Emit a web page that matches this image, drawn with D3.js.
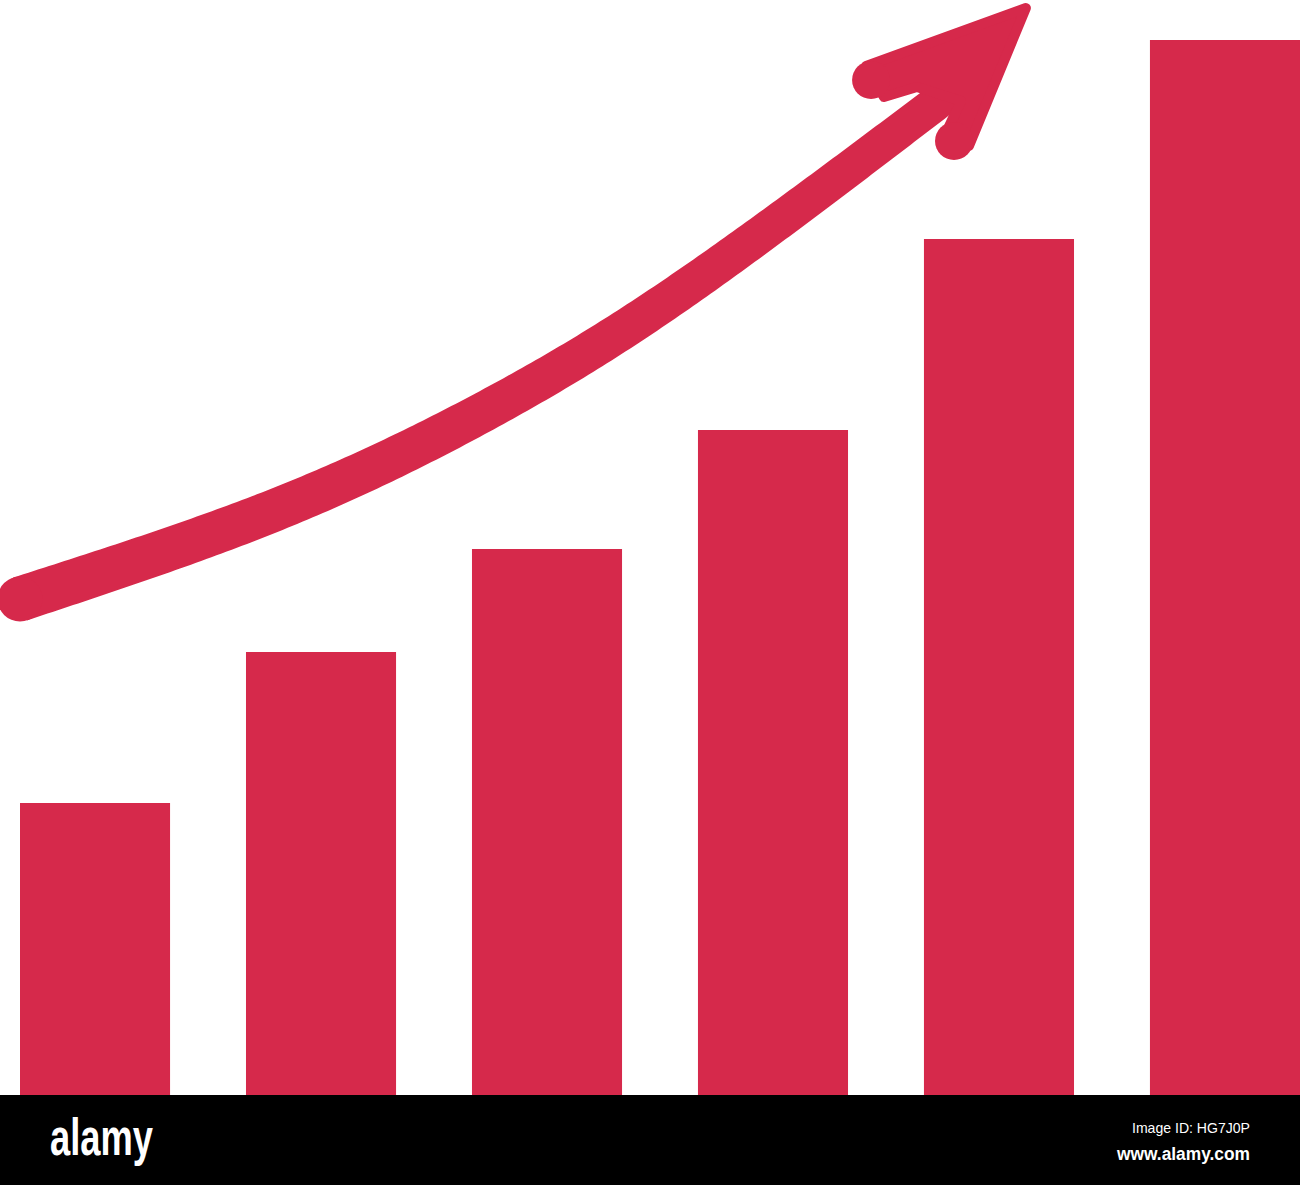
<!DOCTYPE html>
<html><head><meta charset="utf-8">
<script src="https://cdn.jsdelivr.net/npm/d3@7"></script>
<style>html,body{margin:0;padding:0;background:#fff;}svg{display:block;}</style>
</head><body>
<svg id="c" width="1300" height="1185"></svg>
<script>
// ---- data ----
const categories = ["1", "2", "3", "4", "5", "6"];
const values = [2.92, 4.43, 5.46, 6.65, 8.56, 10.55];
// trend arrow shaft (x in bar-index units, y in value units)
const shaftX = [-0.332, 0.819, 1.792, 2.677, 3.827];
const shaftY = [4.96, 5.87, 6.92, 8.17, 10.10];
// arrow head outline
const headX = [4.119, 3.412, 3.491, 3.637, 3.832, 3.757, 3.867];
const headY = [10.87, 10.29, 9.98, 10.08, 9.94, 9.58, 9.49];
const barbX = [3.434, 3.801];
const barbY = [10.15, 9.54];
const footerLogo = "alamy";
const footerId = "Image ID: HG7J0P";
const footerUrl = "www.alamy.com";

const W = 1300, H = 1185, base = 1095, red = "#d6294b";
const svg = d3.select("#c");

const x = d3.scaleBand().domain(categories).range([20, 1300]).paddingInner(0.336).paddingOuter(0);
const y = d3.scaleLinear().domain([0, 10.55]).range([base, 40]);
const xi = d3.scaleLinear().domain([0, categories.length - 1])
  .range([x(categories[0]) + x.bandwidth() / 2, x(categories[categories.length - 1]) + x.bandwidth() / 2]);

svg.append("g").selectAll("rect").data(values).join("rect")
  .attr("x", (d, i) => x(categories[i]))
  .attr("y", d => y(d))
  .attr("width", x.bandwidth())
  .attr("height", d => base - y(d))
  .attr("fill", red);

// shaft: sample a smooth curve then build a tapered ribbon
const pts = shaftX.map((v, i) => [xi(v), y(shaftY[i])]);
const tmp = svg.append("path").attr("d", d3.line().curve(d3.curveNatural)(pts)).attr("fill", "none");
const node = tmp.node(), L = node.getTotalLength();
const N = 200, left = [], right = [];
const w0 = 45, w1 = 35;
for (let k = 0; k <= N; k++) {
  const s = L * k / N;
  const p = node.getPointAtLength(s);
  const q = node.getPointAtLength(Math.min(L, s + 1)), r = node.getPointAtLength(Math.max(0, s - 1));
  let dx = q.x - r.x, dy = q.y - r.y; const m = Math.hypot(dx, dy) || 1; dx /= m; dy /= m;
  const hw = (w0 + (w1 - w0) * k / N) / 2;
  left.push([p.x - dy * hw, p.y + dx * hw]);
  right.push([p.x + dy * hw, p.y - dx * hw]);
}
tmp.remove();
svg.append("path").attr("d", d3.line()(left.concat(right.reverse())) + "Z").attr("fill", red);
const p0 = pts[0];
svg.append("circle").attr("cx", p0[0]).attr("cy", p0[1]).attr("r", w0 / 2).attr("fill", red);

// head
const hp = headX.map((v, i) => [xi(v), y(headY[i])]);
svg.append("path").attr("d", d3.line()(hp) + "Z").attr("fill", red)
  .attr("stroke", red).attr("stroke-width", 10).attr("stroke-linejoin", "round");
svg.append("g").selectAll("circle").data(barbX).join("circle")
  .attr("cx", d => xi(d)).attr("cy", (d, i) => y(barbY[i])).attr("r", 19).attr("fill", red);

// footer
svg.append("rect").attr("x", 0).attr("y", base).attr("width", W).attr("height", H - base).attr("fill", "#000");
svg.append("text").attr("x", 50).attr("y", 1155).text(footerLogo)
  .attr("fill", "#fff").attr("font-family", "Liberation Sans Narrow, Liberation Sans, sans-serif")
  .attr("font-weight", "bold").attr("font-size", 52).attr("textLength", 103).attr("lengthAdjust", "spacingAndGlyphs");
svg.append("text").attr("x", 1250).attr("y", 1133).attr("text-anchor", "end").text(footerId)
  .attr("fill", "#fff").attr("font-family", "Liberation Sans Narrow, Liberation Sans, sans-serif")
  .attr("font-size", 15).attr("textLength", 118).attr("lengthAdjust", "spacingAndGlyphs");
svg.append("text").attr("x", 1250).attr("y", 1160).attr("text-anchor", "end").text(footerUrl)
  .attr("fill", "#fff").attr("font-family", "Liberation Sans Narrow, Liberation Sans, sans-serif")
  .attr("font-weight", "bold").attr("font-size", 18).attr("textLength", 133).attr("lengthAdjust", "spacingAndGlyphs");
</script>
</body></html>
